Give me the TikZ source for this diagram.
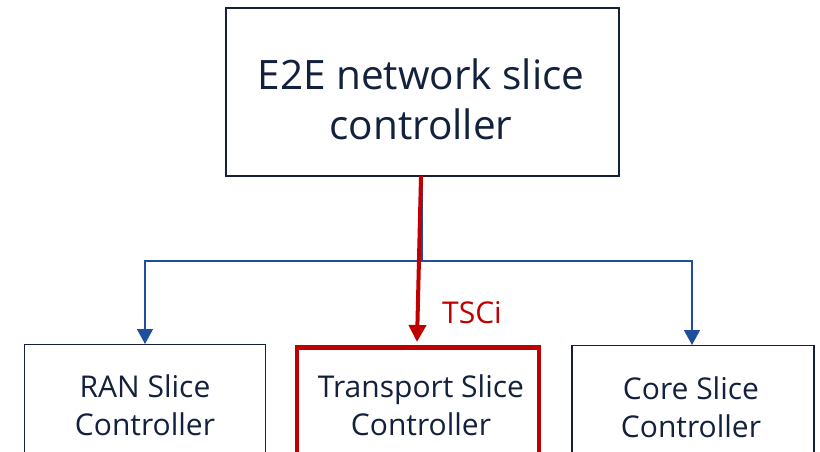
\documentclass[tikz,border=0pt]{standalone}
\usepackage{fontspec}
\setmainfont{Open Sans}
\usetikzlibrary{arrows.meta}
\definecolor{navy}{HTML}{14213D}
\definecolor{lblue}{HTML}{1F4E9C}
\definecolor{dred}{HTML}{C00000}
\begin{document}
\begin{tikzpicture}[x=1pt,y=-1pt,
  box/.style={draw=navy,line width=1.3pt,text=navy,align=center,inner sep=0pt},
  conn/.style={draw=lblue,line width=1.3pt},
  blarrow/.style={conn,-{Triangle[length=15pt,width=16pt]}},
  redarrow/.style={draw=dred,line width=4pt,-{Triangle[length=17pt,width=17pt]}},
  lbl/.style={text=navy,font=\fontsize{30}{38}\selectfont,align=center}]
\useasboundingbox (0,0) rectangle (820,452);
\clip (0,0) rectangle (820,452);
\fill[white] (0,0) rectangle (820,452);
\node[box,minimum width=393pt,minimum height=168pt] (e2e) at (422.5,92) {};
\node[text=navy,align=center,font=\fontsize{40.5}{50}\selectfont] (e2et) at (421,99) {E2E network slice\\controller};
\node[box,anchor=north,minimum width=241pt,minimum height=140pt] (ran) at (145,344) {};
\node[box,anchor=north,minimum width=242pt,minimum height=140pt,draw=dred,line width=4.5pt] (tsc) at (418,345) {};
\node[box,anchor=north,minimum width=242pt,minimum height=140pt] (core) at (693,345) {};
\node[lbl] (rant) at (145,405) {RAN Slice\\Controller};
\node[lbl] (tsct) at (421,405) {Transport Slice\\Controller};
\node[lbl] (coret) at (691,407) {Core Slice\\Controller};
\coordinate (j) at (422,261);
\coordinate (jl) at (145,261);
\coordinate (jr) at (692,261);
\draw[conn] (e2e.south -| j) -- (j);
\draw[blarrow] (j) -- (jl) -- (jl |- ran.north);
\draw[blarrow] (j) -- (jr) -- (jr |- core.north);
\draw[redarrow] (421,176) -- (417,342);
\node[text=dred,font=\fontsize{30}{34}\selectfont] (tsci) at (472,313) {TSCi};
\end{tikzpicture}
\end{document}
